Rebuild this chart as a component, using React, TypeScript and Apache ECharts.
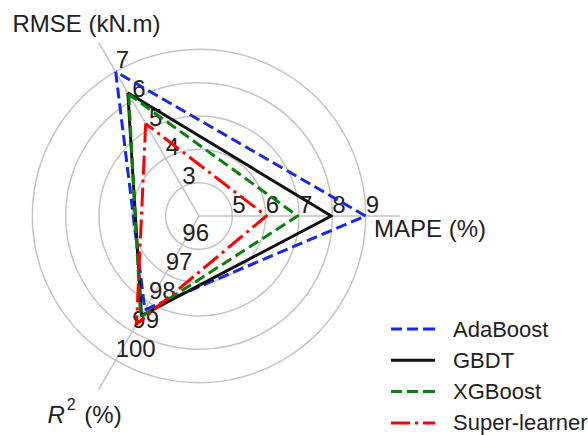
import React, { useEffect, useRef } from "react";
import * as echarts from "echarts";

const FONT = "Liberation Sans, Arial, sans-serif";

// Axes (counter-clockwise from 120°): RMSE, R², MAPE
const axisNames = ["RMSE (kN.m)", "{i|R}{s|2}{n| (%)}", "MAPE (%)"];
const axisMin = [2, 95, 4];
const axisMax = [8, 101, 10];

const seriesNames = ["AdaBoost", "GBDT", "XGBoost", "Super-learner"];
const adaBoost = [7.0, 98.25, 9.0];
const gbdt = [6.27, 98.45, 7.97];
const xgBoost = [6.22, 98.5, 6.96];
const superLearner = [5.2, 98.75, 6.02];

const seriesValues = [adaBoost, gbdt, xgBoost, superLearner];
const seriesColors = ["#1428e6", "#111111", "#0a800a", "#ff0000"];
const seriesDash: any[] = [[11, 5], "solid", [11, 5], [19, 5, 3, 5]];
const legendIcons = [
  "path://M0,0h11v3h-11z M16,0h11v3h-11z M32,0h12v3h-12z",
  "path://M0,0h44v3h-44z",
  "path://M0,0h11v3h-11z M16,0h11v3h-11z M32,0h12v3h-12z",
  "path://M0,0h19v3h-19z M24,0h3v3h-3z M32,0h12v3h-12z",
];

const TEXT = "#222222";
const GRID = "#c4c4c4";

export default function App() {
  const ref = useRef<HTMLDivElement>(null);
  useEffect(() => {
    if (!ref.current) return;
    const chart = echarts.init(ref.current, null, { renderer: "svg" });
    const nameStyles: any[] = [
      { align: "center", verticalAlign: "bottom", padding: [0, 17, 0, 0] },
      {
        align: "center",
        verticalAlign: "top",
        padding: [0, 21, 0, 0],
        rich: {
          i: { fontStyle: "italic", fontSize: 24, fontFamily: FONT, color: TEXT, padding: [6, 0, 0, 0] },
          s: { fontSize: 16, fontFamily: FONT, color: TEXT, verticalAlign: "top", padding: [0, 2, 0, 2] },
          n: { fontSize: 24, fontFamily: FONT, color: TEXT, padding: [6, 0, 0, 0] },
        },
      },
      { align: "center", verticalAlign: "top", padding: [0, 0, 0, 46] },
    ];
    const option: any = {
      animation: false,
      radar: {
        center: [199, 216],
        radius: 200,
        startAngle: 120,
        shape: "circle",
        splitNumber: 6,
        axisNameGap: 8,
        axisName: { color: TEXT, fontSize: 24, fontFamily: FONT },
        indicator: axisNames.map((n, i) => ({
          name: n,
          min: axisMin[i],
          max: axisMax[i],
          nameTextStyle: nameStyles[i],
        })),
        axisLine: { show: true, lineStyle: { color: GRID, width: 1.5 } },
        axisTick: { show: false },
        axisLabel: {
          show: true,
          margin: 0,
          align: "left",
          verticalAlign: "bottom",
          fontSize: 24,
          fontFamily: FONT,
          color: TEXT,
          formatter: (v: number, idx: number) => (idx === 0 || idx === 6 ? "" : String(v)),
        },
        splitLine: {
          lineStyle: {
            color: [GRID, GRID, GRID, GRID, GRID, GRID, "rgba(0,0,0,0)"],
            width: 1.5,
          },
        },
        splitArea: { show: false },
      },
      legend: {
        orient: "vertical",
        left: 391,
        top: 318,
        padding: 0,
        itemWidth: 44,
        itemHeight: 3,
        itemGap: 9.3,
        textStyle: { fontSize: 22, fontFamily: FONT, color: TEXT, padding: [0, 0, 0, 13] },
        data: seriesNames.map((n, i) => ({ name: n, icon: legendIcons[i] })),
      },
      series: seriesNames.map((n, i) => ({
        type: "radar",
        name: n,
        symbol: "none",
        itemStyle: { color: seriesColors[i] },
        lineStyle: { color: seriesColors[i], width: 3, type: seriesDash[i] },
        data: [{ name: n, value: seriesValues[i] }],
      })),
    };
    chart.setOption(option);
    return () => chart.dispose();
  }, []);
  return (
    <div
      ref={ref}
      style={{ position: "fixed", left: 0, top: 0, width: 588, height: 435, background: "#fff" }}
    />
  );
}
